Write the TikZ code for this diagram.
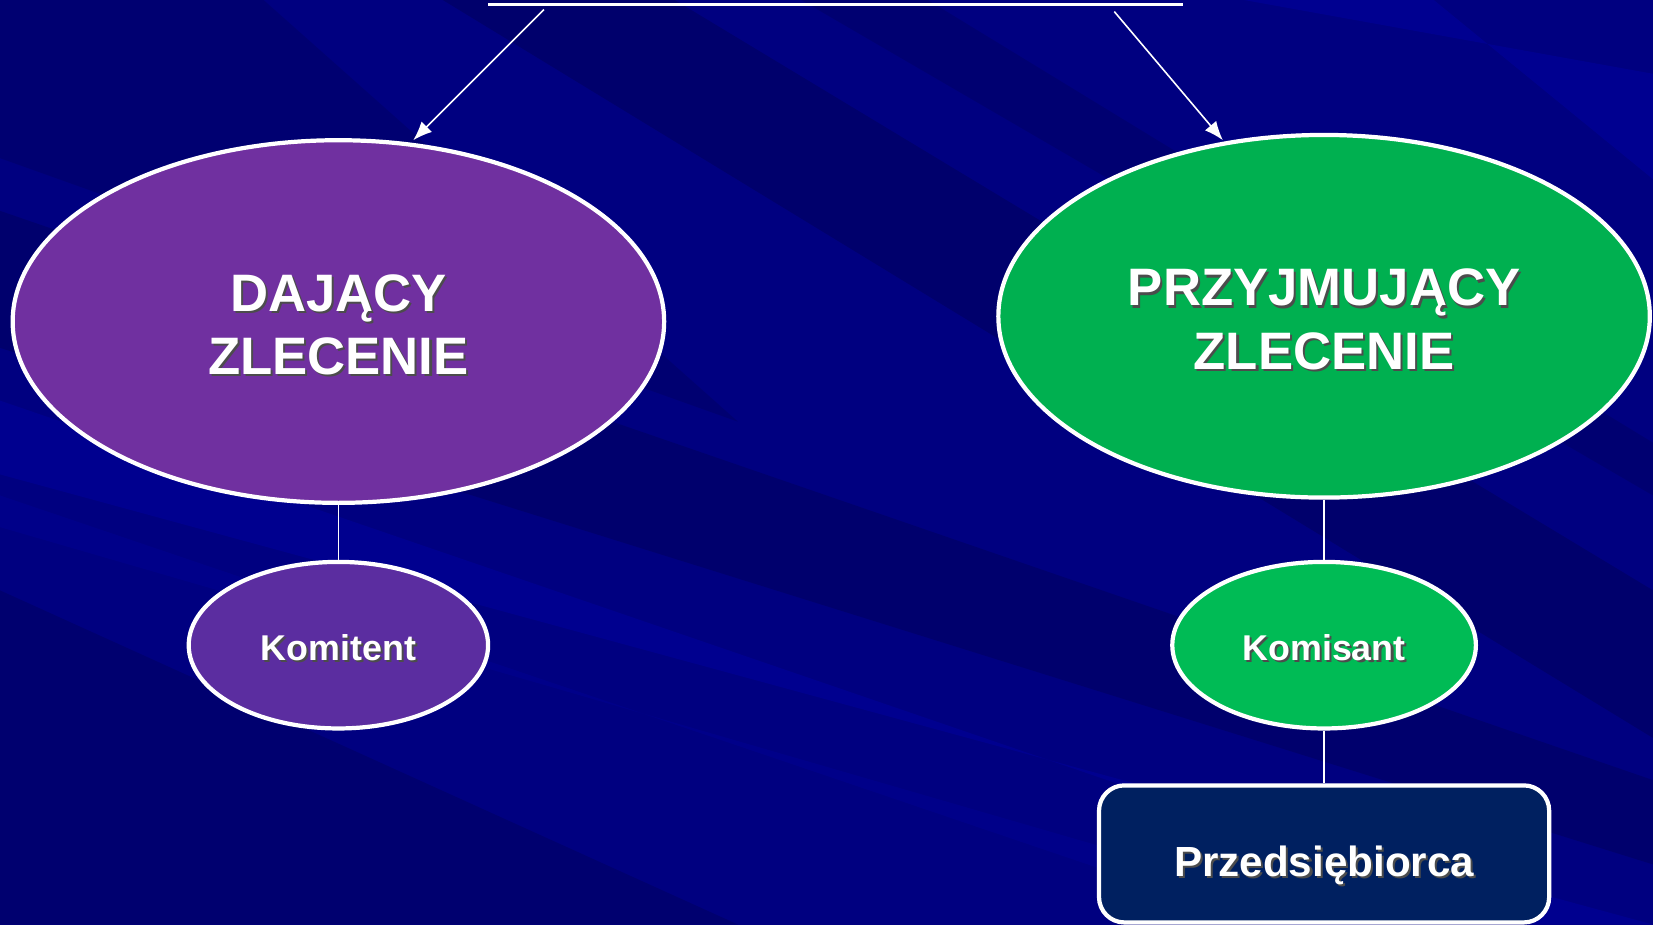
\documentclass[tikz,border=0pt]{standalone}
\usepackage{fontspec}
\setmainfont{Liberation Sans}
\usetikzlibrary{shapes.geometric,arrows.meta}
\definecolor{bgbase}{RGB}{0,0,128}
\definecolor{bgdark}{RGB}{0,0,92}
\definecolor{bglight}{RGB}{0,0,156}
\definecolor{purpbig}{RGB}{112,48,160}
\definecolor{purpsmall}{RGB}{91,45,160}
\definecolor{greenbig}{RGB}{0,176,80}
\definecolor{greensmall}{RGB}{0,187,85}
\definecolor{navybox}{RGB}{0,32,96}
\newcommand\shd[1]{\leavevmode\rlap{\kern2pt\raisebox{-2pt}{\textcolor{black!70}{#1}}}#1}
\tikzset{
  bigell/.style={ellipse, draw=white, line width=4pt, inner sep=0pt,
    minimum width=618pt, minimum height=344pt},
  bigtext/.style={text=white, inner sep=0pt,
    font=\fontsize{50}{60}\selectfont\bfseries, align=center},
  smallell/.style={ellipse, draw=white, line width=4pt, inner sep=0pt,
    minimum height=158pt},
  smalltext/.style={text=white, inner sep=0pt,
    font=\fontsize{34}{40}\selectfont\bfseries},
  boxnode/.style={rectangle, rounded corners=24pt, draw=white, line width=4pt,
    fill=navybox, minimum width=427pt, minimum height=130pt, inner sep=0pt},
  boxtext/.style={text=white, inner sep=0pt,
    font=\fontsize{40}{48}\selectfont\bfseries},
  link/.style={draw=white, line width=1.5pt},
  arr/.style={draw=white, line width=1.5pt, -{Latex[length=18pt,width=14pt]}},
}
\begin{document}
\begin{tikzpicture}[x=1pt,y=-1pt]
\useasboundingbox (0,0) rectangle (1568,877);
% background
\fill[bgbase] (0,0) rectangle (1568,877);
\fill[bgdark,opacity=0.55] (420,0) -- (640,0) -- (1568,560) -- (1568,700) -- cycle;
\fill[bgdark,opacity=0.4] (760,0) -- (880,0) -- (1568,420) -- (1568,470) -- cycle;
\fill[bgdark,opacity=0.5] (0,200) -- (0,330) -- (1568,820) -- (1568,740) -- cycle;
\fill[bgdark,opacity=0.4] (0,0) -- (250,0) -- (700,400) -- (0,150) -- cycle;
\fill[bglight,opacity=0.55] (0,380) -- (0,450) -- (1568,877) -- (1450,877) -- cycle;
\fill[bglight,opacity=0.6] (1180,0) -- (1360,0) -- (1568,170) -- (1568,70) -- cycle;
\fill[bglight,opacity=0.35] (0,470) -- (0,500) -- (1300,877) -- (1200,877) -- cycle;
\fill[bgdark,opacity=0.45] (0,560) -- (0,877) -- (700,877) -- cycle;

% title underline (title text lies above the frame)
\coordinate (ulA) at (463,4);
\coordinate (ulB) at (1122,4);
\draw[white, line width=2.5pt] (ulA) -- (ulB);

% shapes
\node[bigell, fill=purpbig] (dajacy) at (321,305) {};
\node[bigell, fill=greenbig] (przyj) at (1256,300) {};
\node[smallell, fill=purpsmall, minimum width=284pt] (komitent) at (321,612) {};
\node[smallell, fill=greensmall, minimum width=288pt] (komisant) at (1256,612) {};
\node[boxnode] (przeds) at (1256,810) {};

% texts
\node[bigtext] (dajacyT) at ([yshift=-4pt]dajacy.center) {\shd{DAJĄCY}\\\shd{ZLECENIE}};
\node[bigtext] (przyjT) at ([yshift=-4pt]przyj.center) {\shd{PRZYJMUJĄCY}\\\shd{ZLECENIE}};
\node[smalltext] (komitentT) at ([yshift=-3pt]komitent.center) {\shd{Komitent}};
\node[smalltext] (komisantT) at ([yshift=-3pt]komisant.center) {\shd{Komisant}};
\node[boxtext] (przedsT) at ([yshift=-12pt]przeds.center) {\shd{Przedsiębiorca}};

% arrows from title
\coordinate (aL) at (516,9);
\coordinate (aLend) at (392,133);
\coordinate (aR) at (1057,11);
\coordinate (aRend) at (1160,133);
\draw[arr] (aL) -- (aLend);
\draw[arr] (aR) -- (aRend);

% links
\draw[link] (dajacy.south) -- (komitent.north);
\draw[link] (przyj.south) -- (komisant.north);
\draw[link] (komisant.south) -- (przeds.north);
\end{tikzpicture}
\end{document}
